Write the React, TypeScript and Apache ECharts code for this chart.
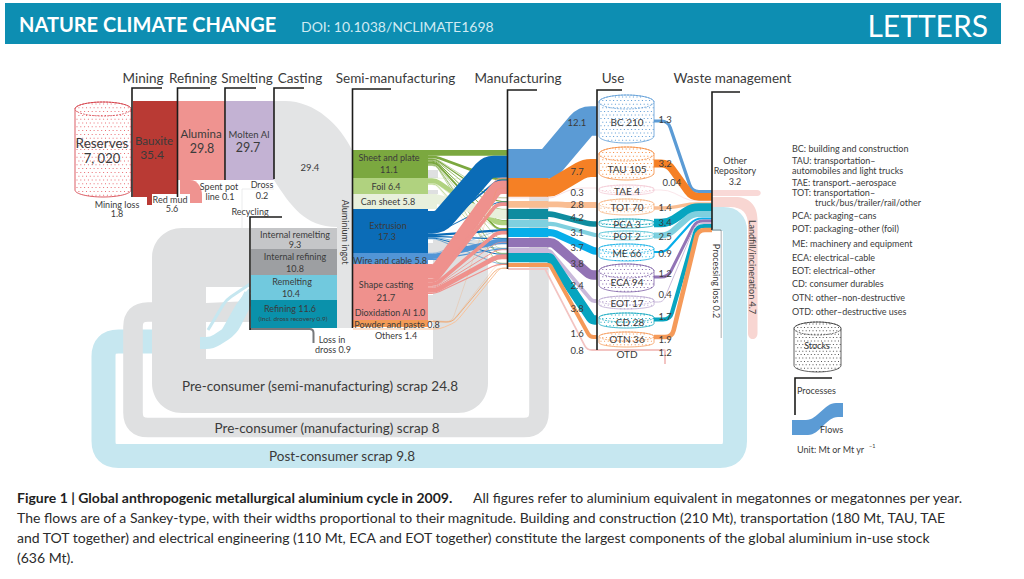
import React, { useEffect, useRef } from "react";
import * as echarts from "echarts";

// ---------- data ----------
const useNames = ["BC", "TAU", "TAE", "TOT", "PCA", "POT", "ME", "ECA", "EOT", "CD", "OTN", "OTD"];
const useStocks = [210, 105, 4, 70, 3, 2, 66, 94, 17, 28, 36, null];
const useInflows = [12.1, 7.7, 0.3, 2.8, 4.2, 3.1, 3.7, 3.8, 2.4, 3.8, 1.6, 0.8];
const useOutflows = [1.3, 3.2, 0.04, 1.4, 3.4, 2.5, 0.9, 1.2, 0.4, 1.7, 1.9, 1.2];
const semiSources = ["Sheet and plate", "Foil", "Can sheet", "Extrusion", "Wire and cable", "Shape casting", "Powder and paste"];
const sheetToUse = [2.3, 1.1, 0.2, 0.5, 0.3, 0.4, 0.8, 0.2, 0.1, 0.3, 0.2, 0];
const foilToUse = [0, 0.1, 0, 0, 0, 1.9, 0.2, 0, 0.1, 0.3, 0.1, 0];
const canToUse = [0, 0, 0, 0, 3.9, 0, 0, 0, 0, 0, 0, 0];
const extrusionToUse = [9, 0.7, 0, 0.4, 0, 0, 0.9, 0.5, 0.2, 0.4, 0.2, 0];
const wireToUse = [0, 0, 0, 0, 0, 0, 0.2, 2.2, 0.5, 0, 0, 0];
const shapeToUse = [0.4, 5.5, 0.1, 1.5, 0, 0, 1.5, 0.3, 0.4, 2, 0.5, 0];
const powderToUse = [0, 0.1, 0, 0, 0, 0, 0, 0, 0, 0, 0.1, 0.3];
const scrapSemi = 24.8;
const scrapManufacturing = 8;
const scrapPost = 9.8;
const columnTitles = ["Mining", "Refining", "Smelting", "Casting", "Semi-manufacturing", "Manufacturing", "Use", "Waste management"];
const legendLines = [
  "BC: building and construction", "TAU: transportation–", "automobiles and light trucks", "TAE: transport.–aerospace",
  "TOT: transportation–", "truck/bus/trailer/rail/other", "PCA: packaging–cans", "POT: packaging–other (foil)",
  "ME: machinery and equipment", "ECA: electrical–cable", "EOT: electrical–other", "CD: consumer durables",
  "OTN: other–non-destructive", "OTD: other–destructive uses",
];
const captionLines = [
  "The flows are of a Sankey-type, with their widths proportional to their magnitude. Building and construction (210 Mt), transportation (180 Mt, TAU, TAE",
  "and TOT together) and electrical engineering (110 Mt, ECA and EOT together) constitute the largest components of the global aluminium in-use stock",
  "(636 Mt).",
];

// ---------- layout and styling ----------
const K = 2.45;
const INK = "#3b3b3b";
const FONT = "Lato";
const GREY = "#dfe0e1";
const LIGHTBLUE = "#c6e7f0";
const useColors = ["#5b9bd5", "#f58025", "#f6d5dc", "#f9bd92", "#0e8c9f", "#7fd0df", "#07aeea", "#9273b5", "#c9b9da", "#07a5c0", "#f59a59", "#f3c4c2"];
const cylColors = ["#5b9bd5", "#f58a3c", "#f3c9d4", "#f7b482", "#12a6bb", "#5cc6d8", "#17b1e6", "#7d5fa6", "#b9a6d0", "#10a7bf", "#f59a59", ""];
const semiColors = ["#7ba83f", "#b0d27f", "#e8f0dc", "#0b6cb7", "#5295d6", "#ef918d", "#f39a56"];
const semiTops = [150, 178, 194, 209, 253, 264, 320];
const semiBottoms = [178, 194, 209, 253, 264, 320, 327];
const semiStack = [150, 178, 194, 209, 253, 264, 320.5];
const mfgTops = [149, 178, 197.5, 201, 209, 220, 228, 238, 248, 253, 263, 268];
const useYs = [121, 168, 188, 205, 224, 235, 251, 275, 301, 320, 337, 350];
const slopeX0 = [549, 552, 552, 560, 552, 553, 553, 553, 550, 550, 550, 545];
const slopeX1 = [585, 585, 574, 565, 590, 595, 594, 590, 592, 592, 590, 587];
const flowWidthScale = [1, 0.95, 1, 0.85, 0.55, 0.55, 0.8, 1, 0.65, 1, 1, 0.9];
const cylTop = [95, 147, 185, 199, 219, 231, 244, 264, 296, 313, 332];
const cylBot = [143, 180, 195, 215, 228, 240, 261, 292, 309, 328, 347];
const cylEll = [14, 14, 8, 10, 6, 6, 9, 14, 9, 9, 9];
const useLabelY = [122, 169, 191, 207, 224, 236, 253, 282, 303, 322, 339, 354];
const inLabelY = [122, 171, 192, 204, 217, 232, 247, 263, 285, 308, 333, 350];
const outLabelY = [119, 163, 182, 207, 222, 236, 253, 273, 294, 316, 339, 352];
const outStartY = [121, 163.5, 190, 208, 223, 235.5, 252, 277, 302, 319.5, 337, 350];
const outX0 = [668, 668, 668, 670, 668, 668, 665, 668, 663, 670, 672];
const outX1 = [692, 692, 690, 690, 692, 692, 695, 696, 696, 697, 698];
const outEndY = [191.5, 197, 201, 204, 207.5, 214, 218.5, 221, 223.5, 226, 230];
const legendY = [148, 160, 170, 182, 192, 202, 215, 228, 243, 257, 270, 283, 297, 311];

const f = (n: number) => n.toFixed(2);
const rectD = (x0: number, y0: number, x1: number, y1: number) =>
  `M ${f(x0)},${f(y0)} L ${f(x1)},${f(y0)} L ${f(x1)},${f(y1)} L ${f(x0)},${f(y1)} Z`;
function route(pts: number[][], r = 8) {
  let d = `M ${f(pts[0][0])},${f(pts[0][1])}`;
  for (let i = 1; i < pts.length - 1; i++) {
    const [ax, ay] = pts[i - 1], [bx, by] = pts[i], [cx, cy] = pts[i + 1];
    const l1 = Math.hypot(bx - ax, by - ay) || 1, l2 = Math.hypot(cx - bx, cy - by) || 1;
    const rr = Math.min(r, l1 / 2, l2 / 2);
    d += ` L ${f(bx - ((bx - ax) / l1) * rr)},${f(by - ((by - ay) / l1) * rr)}`;
    d += ` Q ${f(bx)},${f(by)} ${f(bx + ((cx - bx) / l2) * rr)},${f(by + ((cy - by) / l2) * rr)}`;
  }
  const e = pts[pts.length - 1];
  return d + ` L ${f(e[0])},${f(e[1])}`;
}
function ellipseD(cx: number, cy: number, rx: number, ry: number) {
  const c = 0.5523;
  return `M ${f(cx - rx)},${f(cy)} C ${f(cx - rx)},${f(cy - ry * c)} ${f(cx - rx * c)},${f(cy - ry)} ${f(cx)},${f(cy - ry)} C ${f(cx + rx * c)},${f(cy - ry)} ${f(cx + rx)},${f(cy - ry * c)} ${f(cx + rx)},${f(cy)} C ${f(cx + rx)},${f(cy + ry * c)} ${f(cx + rx * c)},${f(cy + ry)} ${f(cx)},${f(cy + ry)} C ${f(cx - rx * c)},${f(cy + ry)} ${f(cx - rx)},${f(cy + ry * c)} ${f(cx - rx)},${f(cy)} Z`;
}

type El = any;
const els: El[] = [];
const fill = (d: string, color: string, extra: any = {}) => els.push({ kind: "path", d, style: { fill: color, stroke: "none", ...extra } });
const stroke = (d: string, color: string, w: number, extra: any = {}) => els.push({ kind: "path", d, style: { fill: "none", stroke: color, lineWidth: w, ...extra } });
const text = (s: string, x: number, y: number, size = 9.5, o: any = {}) =>
  els.push({ kind: "text", s, x, y, size, align: o.align || "center", color: o.color || INK, weight: o.weight || "normal", rot: o.rot || 0 });
function bracket(x: number, y0: number, y1: number, xr: number) {
  stroke(`M ${f(xr)},${f(y0)} L ${f(x)},${f(y0)} L ${f(x)},${f(y1)}`, "#1d1d1b", 1.6);
}
function cylinder(x0: number, x1: number, y0: number, y1: number, eh: number, color: string, dotColor: string, step = 3.6) {
  const cx = (x0 + x1) / 2, rx = (x1 - x0) / 2, ry = eh / 2, c = 0.5523;
  const botY = y1 - ry, topY = y0 + ry;
  const body = `M ${f(x0)},${f(topY)} L ${f(x0)},${f(botY)} C ${f(x0)},${f(botY + ry * c)} ${f(cx - rx * c)},${f(y1)} ${f(cx)},${f(y1)} C ${f(cx + rx * c)},${f(y1)} ${f(x1)},${f(botY + ry * c)} ${f(x1)},${f(botY)} L ${f(x1)},${f(topY)} C ${f(x1)},${f(topY - ry * c)} ${f(cx + rx * c)},${f(y0)} ${f(cx)},${f(y0)} C ${f(cx - rx * c)},${f(y0)} ${f(x0)},${f(topY - ry * c)} ${f(x0)},${f(topY)} Z`;
  fill(body, "#ffffff");
  let dots = "";
  let row = 0;
  for (let y = y0 + 1.5; y < y1 - 0.5; y += step, row++) {
    for (let x = x0 + 1.5 + (row % 2 ? step / 2 : 0); x < x1 - 0.5; x += step) {
      const u = (x - cx) / rx;
      const dy = ry * Math.sqrt(Math.max(0, 1 - u * u));
      if (y > botY + dy - 0.5 || y < topY - dy + 0.5) continue;
      dots += rectD(x, y, x + 1, y + 1) + " ";
    }
  }
  if (dots) fill(dots, dotColor);
  stroke(body, color, 0.8);
  stroke(ellipseD(cx, topY, rx, ry), color, 0.7, { lineDash: [2, 1] });
}

// ---------- header ----------
fill(rectD(5, 3, 1001, 44), "#0d8eb2");
text("NATURE CLIMATE CHANGE", 19, 24, 20, { align: "left", color: "#fff", weight: "bold" });
text("DOI: 10.1038/NCLIMATE1698", 301, 26, 14, { align: "left", color: "#cfeaf2" });
text("LETTERS", 988, 25, 30, { align: "right", color: "#fff" });

// ---------- scrap loops ----------
stroke(route([[712, 219], [735, 219], [735, 456], [103.5, 456], [103.5, 341.5], [205, 341.5]], 15), LIGHTBLUE, scrapPost * K);
fill("M 182,228 L 250,228 L 250,287 L 206,287 L 206,359 L 433,359 L 433,240 L 488,240 L 488,383 C 488,400 475,413 458,413 L 182,413 C 165,413 152,400 152,383 L 152,258 C 152,241 165,228 182,228 Z", GREY);
stroke(route([[250, 312], [133, 312], [133, 427.5], [539, 427.5], [539, 178]], 15), GREY, scrapManufacturing * K);
fill(rectD(206, 287, 250, 330), "#ffffff");
fill("M 206,303 L 250,301 L 250,322 L 206,322 Z", GREY);
stroke(route([[200, 343], [212, 343], [232, 330], [250, 294]], 8), LIGHTBLUE, 12);
stroke(route([[208, 330], [226, 300], [250, 284]], 6), LIGHTBLUE, 3);
stroke(route([[224, 330], [238, 305], [250, 290]], 6), LIGHTBLUE, 4);
// casting to ingot
fill("M 274,101 L 285,101 C 315,101 340,125 352,150 L 352,328 L 337,328 L 337,227 C 305,227 290,205 274,180 Z", "#e3e4e5");
stroke("M 274,189 L 242,189 L 242,228", "#e6e7e8", 0.8);

// ---------- primary columns ----------
cylinder(75, 131, 102, 197, 14, "#d2323c", "#ea6f75", 3.8);
fill(rectD(133, 101, 177.5, 197), "#b93a34");
fill(rectD(178, 101, 225, 180), "#ef9390");
fill(rectD(225.5, 101, 274, 180), "#c3b2d3");
fill("M 180,180 L 190,180 C 198,180 202,188 202,195 L 202,203 L 180,203 Z", "#ef9390");
fill(rectD(147, 197, 152, 205), "#b93a34");
fill(rectD(152, 194, 190, 204), "#ffffff");
bracket(132, 88, 197, 162);
bracket(177.5, 88, 197, 210);
bracket(225, 88, 180, 256);
bracket(274, 88, 179, 304);

// ---------- recycling ----------
fill(rectD(251, 228, 337, 249), "#c5c6c8");
fill(rectD(251, 249, 337, 275), "#9d9fa2");
fill(rectD(251, 275, 337, 300), "#71c9de");
fill(rectD(251, 300, 337, 328), "#0a91ab");
stroke(route([[250, 329], [313.5, 329], [313.5, 343]], 4), "#77787b", 2);
bracket(250, 217, 330, 282);

// ---------- semi-manufacturing → manufacturing ----------
[[428, 170, 438, 178], [428, 190, 438, 194], [428, 243, 458, 253], [428, 295, 458, 320]].forEach(([a, b, c, d]) => fill(rectD(a, b, c, d), GREY));
semiTops.forEach((t, i) => fill(rectD(353, t, i === 2 ? 437 : 428, semiBottoms[i]), semiColors[i]));
const matrix = [sheetToUse, foilToUse, canToUse, extrusionToUse, wireToUse, shapeToUse, powderToUse];
const offsets = useNames.map(() => 0);
const targetStart = [150, 178, 197.5, 201, 209, 220, 228, 238, 248, 253, 263, 268];
matrix.forEach((row, s) => {
  let y = semiStack[s];
  const last = s === matrix.length - 1;
  row.forEach((v, t) => {
    if (!v) return;
    const w = v * K;
    const yt = targetStart[t] + offsets[t] + w / 2;
    offsets[t] += w * (t === 0 ? 1 : 0.55);
    const ys = y + w / 2;
    const pts = s === 0 && t === 0
      ? [[428, ys], [507, ys]]
      : last
        ? [[428, ys], [452, ys + 1], [497, yt], [507, yt]]
        : t === 0 && s === 3
          ? [[428, ys + 2], [440, ys + 2], [488, yt], [507, yt]]
          : [[428, ys], [436, ys], [497, yt], [507, yt]];
    stroke(route(pts, 6), semiColors[s], w);
    y += w;
  });
});
stroke(route([[353, 329], [440, 329], [456, 322], [500, 268], [507, 268]], 5), "#f9c39b", 1);
bracket(352.5, 89, 328, 391);

// ---------- manufacturing → use ----------
useInflows.forEach((v, i) => {
  const w = v * K;
  const ym = mfgTops[i] + w / 2;
  fill(rectD(508, mfgTops[i], 548, mfgTops[i] + w), useColors[i]);
  const pts = [[547, ym], [slopeX0[i], ym], [slopeX1[i], useYs[i]], [597, useYs[i]]];
  stroke(route(pts, 8), useColors[i], w * flowWidthScale[i]);
});
stroke(route([[597, 350], [665, 350], [665, 364]], 1), "#f3c4c2", 2);
bracket(507.5, 90, 269, 537);
bracket(597, 90, 350, 622);

// ---------- use → waste ----------
fill("M 712,190 L 757,190 C 762,190 762,196 757,196 L 712,196 Z", "#f9d9d7");
fill("M 712,197 L 735,197 C 749,197 757.5,205 757.5,220 L 757.5,333 C 757.5,341 748,341 748,333 L 748,225 C 748,213 742,207 730,207 L 712,207 Z", "#f8d6d2");
useOutflows.slice(0, 11).forEach((v, i) => {
  const w = Math.max(v * K, 0.6);
  const pts = [[654, outStartY[i]], [outX0[i], outStartY[i]], [outX1[i], outEndY[i]], [712, outEndY[i]]];
  stroke(route(pts, 7), useColors[i === 4 ? 9 : i], w);
});
bracket(712, 92, 230, 740);
stroke("M 712,230 L 721,230 L 721,338", "#77787b", 0.8);
fill(rectD(712.5, 231, 720.5, 338), "#ffffff");

// stocks
useNames.slice(0, 11).forEach((_, i) => {
  cylinder(599, 654, cylTop[i], cylBot[i], cylEll[i], cylColors[i], cylColors[i]);
});

// ---------- labels ----------
const titleX = [143, 193, 247, 300, 395.5, 518, 613, 732.5];
columnTitles.forEach((t, i) => text(t, titleX[i], 78, 13.5));
text("Reserves", 102, 143, 13.5); text("7, 020", 102, 158, 13);
text("Bauxite", 154, 140, 11.5); text("35.4", 152, 154, 12);
text("Alumina", 201, 133, 11.5); text("29.8", 202, 148, 12.5);
text("Molten Al", 249, 134, 9.5); text("29.7", 248, 147, 12.5);
text("29.4", 310, 167, 9.5);
text("Spent pot", 219, 186, 9); text("line 0.1", 220, 196, 9);
text("Dross", 262, 184, 9); text("0.2", 262, 195, 9);
text("Mining loss", 117, 204, 9); text("1.8", 117, 213, 9);
text("Red mud", 170, 199, 9); text("5.6", 172, 208, 9);
text("Recycling", 250, 211, 9);
text("Aluminium ingot", 345, 232, 9, { rot: -Math.PI / 2 });
text("Sheet and plate", 389, 157, 9); text("11.1", 389, 169, 9);
text("Foil 6.4", 386, 186, 9); text("Can sheet 5.8", 388, 201, 9);
text("Extrusion", 388, 225, 9); text("17.3", 387, 236, 9);
text("Wire and cable 5.8", 390, 260, 9);
text("Shape casting", 386, 284, 9); text("21.7", 386, 297, 9.5);
text("Dioxidation Al 1.0", 390, 312, 9); text("Powder and paste 0.8", 397, 324, 9);
text("Others 1.4", 396, 335, 9);
text("Internal remelting", 295, 234, 9); text("9.3", 295, 244, 9);
text("Internal refining", 295, 256, 9); text("10.8", 295, 268, 9);
text("Remelting", 292, 281, 9); text("10.4", 291, 293, 9);
text("Refining 11.6", 290, 308, 9); text("(Incl. dross recovery 0.9)", 293, 318, 6.5);
text("Loss in", 332, 339, 9); text("dross 0.9", 333, 349, 9);
text(`Pre-consumer (semi-manufacturing) scrap ${scrapSemi}`, 320, 386, 13.5);
text(`Pre-consumer (manufacturing) scrap ${scrapManufacturing}`, 327, 428, 13.5);
text(`Post-consumer scrap ${scrapPost}`, 342, 456, 13.5);
useNames.forEach((n, i) => {
  const s = useStocks[i];
  text(s == null ? n : `${n} ${s}`, i === 9 ? 630 : 627, useLabelY[i], 10);
  text(String(useInflows[i]), 577, inLabelY[i], 9.5);
  text(String(useOutflows[i]), i === 2 ? 672 : 665, outLabelY[i], 9.5);
});
text("Other", 735, 160, 9); text("Repository", 735, 170, 9); text("3.2", 735, 181, 9);
text("Landfill/incineration 4.7", 752, 267, 9, { rot: -Math.PI / 2 });
text("Processing loss 0.2", 716, 281, 9, { rot: -Math.PI / 2 });

// legend
legendLines.forEach((l, i) => text(l, i === 5 ? 815 : i === 2 ? 792 : 792, legendY[i], 9, { align: "left" }));
cylinder(794, 841, 322, 372, 13, "#3b3b3b", "#555555", 3.4);
text("Stocks", 817, 345, 9);
bracket(795, 378, 415, 832);
text("Processes", 797, 390, 9, { align: "left" });
fill("M 792,420 L 806,420 C 818,420 824,403 836,403 L 843,403 L 843,417 L 838,417 C 826,417 820,435 808,435 L 792,435 Z", "#5b9bd5");
text("Flows", 820, 429, 9, { align: "left" });
text("Unit: Mt or Mt yr", 797, 449, 9, { align: "left" });
text("−1", 869, 446, 5.5, { align: "left" });

// caption
text("Figure 1 | Global anthropogenic metallurgical aluminium cycle in 2009.", 17, 497, 14, { align: "left", weight: "bold", color: "#1f1f1f" });
text("All figures refer to aluminium equivalent in megatonnes or megatonnes per year.", 473, 497, 14, { align: "left", color: "#2b2b2b" });
captionLines.forEach((l, i) => text(l, 17, 517 + i * 20, 14, { align: "left", color: "#2b2b2b" }));

const screen = (d: string, api: any) =>
  d.replace(/(-?\d+(?:\.\d+)?),(-?\d+(?:\.\d+)?)/g, (_m, x, y) => {
    const p = api.coord([+x, +y]);
    return `${p[0].toFixed(2)},${p[1].toFixed(2)}`;
  });

function renderItem(params: any, api: any) {
  const e = els[params.dataIndex];
  if (e.kind === "path") {
    return { type: "path", silent: true, shape: { pathData: screen(e.d, api) }, style: e.style };
  }
  const p = api.coord([e.x, e.y]);
  return {
    type: "text", silent: true, x: p[0], y: p[1], rotation: e.rot,
    style: {
      text: e.s, x: 0, y: 0, fill: e.color, fontSize: e.size, fontFamily: FONT, fontWeight: e.weight,
      align: e.align, textAlign: e.align, verticalAlign: "middle", textVerticalAlign: "middle",
    },
  };
}

export default function App() {
  const ref = useRef<HTMLDivElement>(null);
  useEffect(() => {
    document.body.style.margin = "0";
    const chart = echarts.init(ref.current!, null, { renderer: "svg", width: 1024, height: 579 });
    chart.setOption({
      animation: false,
      backgroundColor: "#ffffff",
      grid: { left: 0, right: 0, top: 0, bottom: 0 },
      xAxis: { type: "value", min: 0, max: 1024, show: false },
      yAxis: { type: "value", min: 0, max: 579, inverse: true, show: false },
      series: [{
        type: "custom", coordinateSystem: "cartesian2d", clip: false, silent: true,
        renderItem, data: els.map((_, i) => [i, 0]),
      }],
    });
    return () => chart.dispose();
  }, []);
  return <div ref={ref} style={{ position: "absolute", left: 0, top: 0, width: 1024, height: 579 }} />;
}
